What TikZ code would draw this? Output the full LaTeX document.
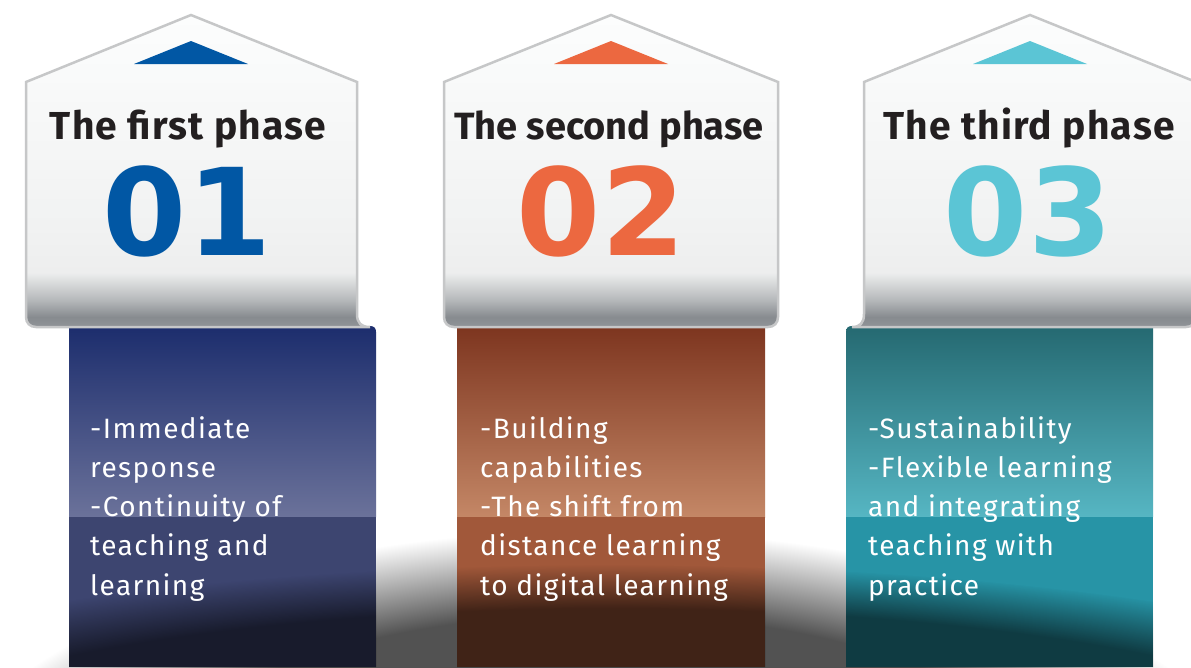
\documentclass[tikz,border=0pt]{standalone}
\usepackage{fontspec}
\setmainfont{Fira Sans}
\newfontfamily\numfont{DejaVu Sans}
\usetikzlibrary{fadings}

\definecolor{phaseblue}{HTML}{0157A4}
\definecolor{phaseorange}{HTML}{EC6840}
\definecolor{phasecyan}{HTML}{5BC5D5}
\definecolor{roofline}{HTML}{C6C7C8}
\definecolor{titleink}{HTML}{231F20}
\definecolor{floorgrey}{HTML}{525252}
\definecolor{hsa}{HTML}{8F9397}
\definecolor{hsb}{HTML}{878B8F}
\definecolor{hsc}{HTML}{B5B8BA}
\definecolor{hsd}{HTML}{EDEEEE}
\definecolor{hse}{HTML}{F1F2F2}
\definecolor{hsf}{HTML}{FCFDFD}
\definecolor{rbonetop}{HTML}{1C2D6D}
\definecolor{rbonemid}{HTML}{6B729A}
\definecolor{rbonelow}{HTML}{3D4570}
\definecolor{rbtwotop}{HTML}{7D351F}
\definecolor{rbtwomid}{HTML}{C48766}
\definecolor{rbtwolow}{HTML}{A1583A}
\definecolor{rbthreetop}{HTML}{256971}
\definecolor{rbthreemid}{HTML}{56B6C3}
\definecolor{rbthreelow}{HTML}{2794A6}

\pgfdeclareverticalshading{housegrad}{100bp}{color(0bp)=(hsa); color(25bp)=(hsa);
  color(26.6bp)=(hsb); color(29.3bp)=(hsc); color(33.7bp)=(hsd); color(41bp)=(hse);
  color(75bp)=(hsf); color(100bp)=(hsf)}
\pgfdeclareradialshading{floorshadow}{\pgfpoint{0bp}{0bp}}{color(0bp)=(floorgrey);
  color(18bp)=(floorgrey); color(25bp)=(white); color(50bp)=(white)}
\pgfdeclareradialshading{sinkshade}{\pgfpoint{0bp}{0bp}}{color(0bp)=(white);
  color(20bp)=(white); color(25bp)=(black); color(50bp)=(black)}
\pgfdeclarefading{sinkfade}{\pgfuseshading{sinkshade}}

\begin{document}
\begin{tikzpicture}[x=1pt, y=-1pt,
    house/.style={draw=roofline, line width=2.5pt, shade, shading=housegrad},
    phasetitle/.style={anchor=base, inner sep=0pt, text=titleink,
        font=\fontsize{39}{40}\selectfont\bfseries\addfontfeatures{LetterSpace=3}},
    phasenum/.style={anchor=base, inner sep=0pt, font=\fontsize{121}{122}\selectfont\numfont\bfseries},
    phaselist/.style={anchor=north west, inner sep=0pt, align=left, text=white,
        font=\fontsize{28}{39.3}\selectfont\addfontfeatures{LetterSpace=5}}]
\useasboundingbox (0,0) rectangle (1191,667);
\fill[white] (0,0) rectangle (1191,667);

% shadow on the floor
\shade[shading=floorshadow] (600,830) ellipse [x radius=677pt, y radius=300pt];

% ribbons
\shade[top color=rbonetop, bottom color=rbonemid] (69,517) -- (69,326) -- (370,326)
    .. controls (374,326) and (376,328) .. (376,332) -- (376,517) -- cycle;
\fill[rbonelow] (69,517) rectangle (376,667);
\shade[top color=rbtwotop, bottom color=rbtwomid] (457,326) rectangle (765,517);
\fill[rbtwolow] (457,517) rectangle (765,667);
\shade[top color=rbthreetop, bottom color=rbthreemid] (1153,517) -- (1153,326) -- (852,326)
    .. controls (848,326) and (846,328) .. (846,332) -- (846,517) -- cycle;
\fill[rbthreelow] (846,517) rectangle (1153,667);
\begin{scope}
    \clip (69,517) rectangle (376,667) (457,517) rectangle (765,667) (846,517) rectangle (1153,667);
    \fill[black, fill opacity=.6, path fading=sinkfade] (611,785) ellipse [x radius=990pt, y radius=220pt];
\end{scope}

% houses
\path[house] (26,82) -- (191,15) -- (357,82) -- (357,314)
    .. controls (357,323) and (361,327) .. (370,327) -- (36,327)
    .. controls (30,327) and (26,323) .. (26,317) -- cycle;
\path[house] (444,82) -- (611,15) -- (778,82) -- (778,317)
    .. controls (778,323) and (774,327) .. (768,327) -- (454,327)
    .. controls (448,327) and (444,323) .. (444,317) -- cycle;
\path[house] (864,82) -- (1030,15) -- (1196,82) -- (1196,317)
    .. controls (1196,323) and (1192,327) .. (1186,327) -- (852,327)
    .. controls (860,327) and (864,323) .. (864,314) -- cycle;

\fill[phaseblue] (191,41) -- (248,64) -- (134,64) -- cycle;
\fill[phaseorange] (611,41) -- (668,64) -- (554,64) -- cycle;
\fill[phasecyan] (1030,41) -- (1087,64) -- (973,64) -- cycle;

\node[phasetitle] (title1) at (188,139) {The first phase};
\node[phasetitle, font=\fontsize{38}{40}\selectfont\bfseries] (title2) at (609,139) {The second phase};
\node[phasetitle] (title3) at (1029,139) {The third phase};

\node[phasenum, text=phaseblue] (num1) at (187,255) {01};
\node[phasenum, text=phaseorange] (num2) at (601,255) {02};
\node[phasenum, text=phasecyan] (num3) at (1028,255) {03};

\node[phaselist] (list1) at (90,416) {-Immediate\\response\\-Continuity of\\teaching and\\learning};
\node[phaselist] (list2) at (480,416) {-Building\\capabilities\\-The shift from\\distance learning\\to digital learning};
\node[phaselist] (list3) at (868,416) {-Sustainability\\-Flexible learning\\and integrating\\teaching with\\practice};
\end{tikzpicture}
\end{document}
